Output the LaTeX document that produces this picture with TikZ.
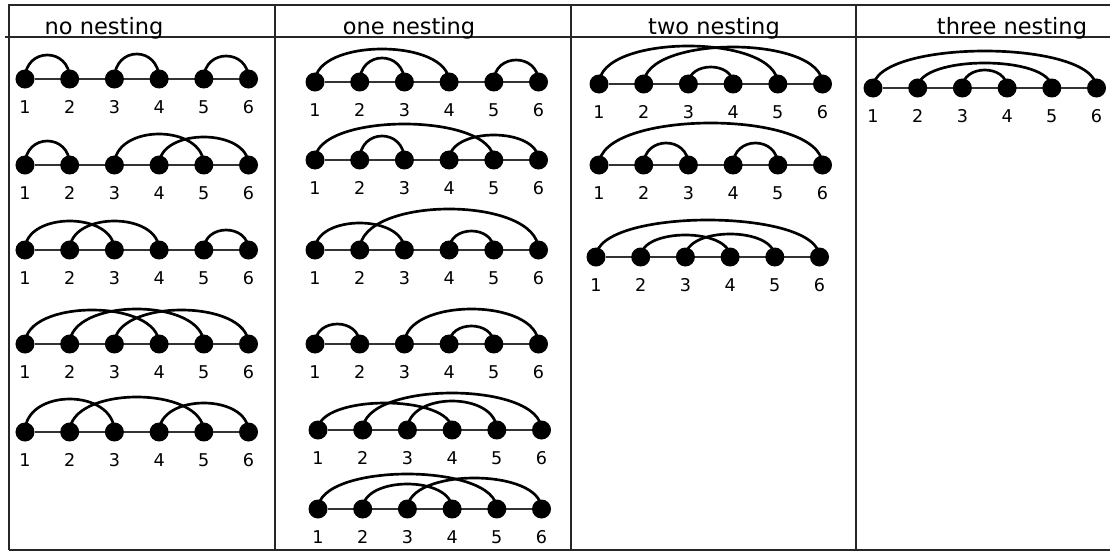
\documentclass[tikz,border=0pt]{standalone}
\usepackage{fontspec}
\setmainfont{DejaVu Sans}
\usetikzlibrary{backgrounds}

% one row of six points with their numbers: name, x of point 1, y
\newcommand\chorddiagram[3]{%
  \foreach \i in {1,...,6} {
    \node[dot] (#1-\i) at ({#2+(\i-1)*44.7}, #3) {};
    \node[num] (#1-l\i) at ({#2+(\i-1)*44.7}, #3+28) {\i};
  }
  \begin{scope}[on background layer]
    \draw[spine] (#1-1) -- (#1-6);
  \end{scope}
}
% arc between two points of a row: name, from, to, height
\newcommand\chord[4]{%
  \draw[arcline] (#1-#2.center) .. controls +(0,{-(#4-1)*4/3})
    and +(0,{-(#4-1)*4/3}) .. (#1-#3.center);
}

\begin{document}
\begin{tikzpicture}[
  x=0.025cm, y=-0.025cm,
  dot/.style={circle, fill=black, inner sep=0pt, minimum size=0.475cm},
  num/.style={font=\fontsize{12.5}{14}\selectfont, inner sep=0pt},
  head/.style={font=\fontsize{16}{19}\selectfont, anchor=base, inner sep=0pt},
  spine/.style={line width=1.05pt, black!80},
  arcline/.style={line width=1.9pt, black},
  frame/.style={line width=1.6pt, black!85},
  rule/.style={line width=1.1pt, black!85}
]
  \useasboundingbox (0,0) rectangle (1110,552);
  % table
  \draw[frame] (8,5) -- (1110,5);
  \draw[frame] (9,5) -- (9,550);
  \draw[frame] (9,550) -- (1110,550);
  \draw[rule] (5,37) -- (1110,37);
  \draw[rule] (275,5) -- (275,550);
  \draw[rule] (571,5) -- (571,550);
  \draw[rule] (856,5) -- (856,550);
  \node[head] (h0) at (104,34)  {no nesting};
  \node[head] (h1) at (409,34)  {one nesting};
  \node[head] (h2) at (714,34)  {two nesting};
  \node[head] (h3) at (1012,34) {three nesting};

  % no nesting
  \chorddiagram{n0a}{25}{79}
  \chord{n0a}{1}{2}{25} \chord{n0a}{3}{4}{26} \chord{n0a}{5}{6}{24}
  \chorddiagram{n0b}{25}{165}
  \chord{n0b}{1}{2}{25} \chord{n0b}{3}{5}{32} \chord{n0b}{4}{6}{29}
  \chorddiagram{n0c}{25}{250}
  \chord{n0c}{1}{3}{30} \chord{n0c}{2}{4}{30} \chord{n0c}{5}{6}{21}
  \chorddiagram{n0d}{25}{344}
  \chord{n0d}{1}{4}{35} \chord{n0d}{2}{5}{36} \chord{n0d}{3}{6}{35}
  \chorddiagram{n0e}{25}{432}
  \chord{n0e}{1}{3}{34} \chord{n0e}{2}{5}{36} \chord{n0e}{4}{6}{30}

  % one nesting
  \chorddiagram{n1a}{315}{82}
  \chord{n1a}{1}{4}{34} \chord{n1a}{2}{3}{25} \chord{n1a}{5}{6}{23}
  \chorddiagram{n1b}{315}{160}
  \chord{n1b}{1}{5}{37} \chord{n1b}{2}{3}{25} \chord{n1b}{4}{6}{26}
  \chorddiagram{n1c}{315}{250}
  \chord{n1c}{1}{3}{28} \chord{n1c}{2}{6}{42} \chord{n1c}{4}{5}{20}
  \chorddiagram{n1d}{315}{344}
  \chord{n1d}{1}{2}{21} \chord{n1d}{3}{6}{36} \chord{n1d}{4}{5}{19}
  \chorddiagram{n1e}{318}{430}
  \chord{n1e}{1}{4}{28} \chord{n1e}{2}{6}{38} \chord{n1e}{3}{5}{30}
  \chorddiagram{n1f}{318}{509}
  \chord{n1f}{1}{5}{36} \chord{n1f}{2}{4}{26} \chord{n1f}{3}{6}{32}

  % two nesting
  \chorddiagram{n2a}{599}{84}
  \chord{n2a}{1}{5}{39} \chord{n2a}{2}{6}{38} \chord{n2a}{3}{4}{18}
  \chorddiagram{n2b}{599}{165}
  \chord{n2b}{1}{6}{43} \chord{n2b}{2}{3}{23} \chord{n2b}{4}{5}{23}
  \chorddiagram{n2c}{596}{257}
  \chord{n2c}{1}{6}{38} \chord{n2c}{2}{4}{23} \chord{n2c}{3}{5}{24}

  % three nesting
  \chorddiagram{n3a}{873}{88}
  \chord{n3a}{1}{6}{38} \chord{n3a}{2}{5}{26} \chord{n3a}{3}{4}{19}
\end{tikzpicture}
\end{document}
